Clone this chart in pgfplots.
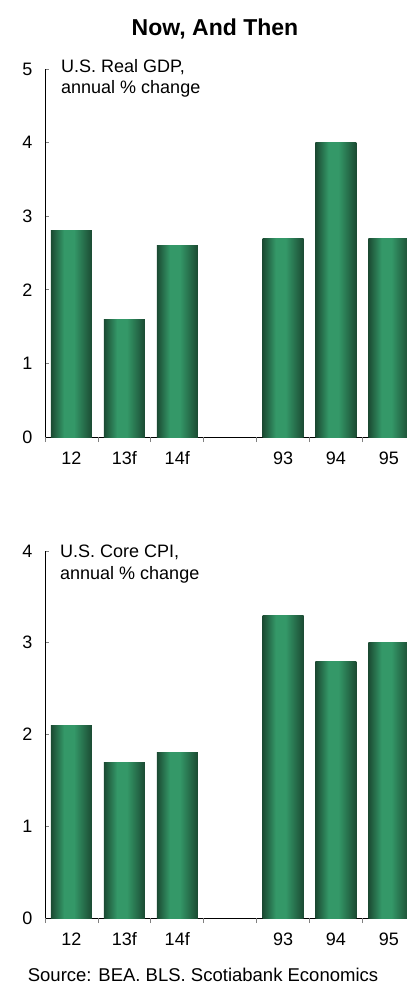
\documentclass[border=0pt]{standalone}
\usepackage{fontspec}
\setmainfont{Liberation Sans}
\usepackage{pgfplots}
\pgfplotsset{compat=1.18}

\definecolor{bardark}{HTML}{1B4A32}
\definecolor{barlight}{HTML}{349868}
\pgfdeclarehorizontalshading{barshade}{100bp}{color(0bp)=(bardark); color(25bp)=(bardark); color(41bp)=(barlight); color(53bp)=(barlight); color(75bp)=(bardark); color(100bp)=(bardark)}

\pgfplotsset{
  nowthen/.style={
    scale only axis, width=362pt,
    xmin=-0.5, xmax=6.343, ymin=0,
    axis x line*=bottom, axis y line*=left,
    axis line style={black, line width=0.9pt},
    ytick distance=1,
    y tick style={gray, line width=0.8pt},
    ytick align=inside, major tick length=4pt,
    yticklabel style={xshift=-9pt},
    xtick={0,1,2,4,5,6}, xticklabels={12,13f,14f,93,94,95},
    major x tick style={draw=none},
    extra x ticks={-0.5,0.5,1.5,2.5,3.5,4.5,5.5},
    extra x tick labels={},
    extra x tick style={major x tick style={draw=gray, line width=0.8pt}, xtick align=outside, major tick length=5pt},
    xticklabel style={yshift=-7pt},
    tick label style={font=\fontsize{18}{20}\selectfont},
    /pgf/number format/assume math mode=true,
    ybar, bar width=41pt, bar shift=0pt,
  },
  greenbar/.style={draw=none, shading=barshade},
}
\tikzset{note/.style={font=\fontsize{18}{20}\selectfont, anchor=base west, inner sep=0pt}}
% one \addplot per bar so each bar gets its own shading
\newcommand{\gbar}[2]{\addplot[greenbar] coordinates {(#1,#2)};}

\begin{document}
\begin{tikzpicture}[x=1pt, y=1pt]
\useasboundingbox (0,0) rectangle (407,-983);

\node[font=\fontsize{23}{26}\selectfont\bfseries, anchor=base] at (215,-35) {Now, And Then};

% U.S. Real GDP
\begin{axis}[nowthen, height=368pt, ymax=5, at={(45pt,-437pt)}, anchor=south west]
\gbar{0}{2.8}
\gbar{1}{1.6}
\gbar{2}{2.6}
\gbar{4}{2.7}
\gbar{5}{4.0}
\gbar{6}{2.7}
\end{axis}
\node[note] at (61,-72) {U.S. Real GDP,};
\node[note] at (61,-93) {annual \% change};

% U.S. Core CPI
\begin{axis}[nowthen, height=367pt, ymax=4, at={(45pt,-918pt)}, anchor=south west]
\gbar{0}{2.1}
\gbar{1}{1.7}
\gbar{2}{1.8}
\gbar{4}{3.3}
\gbar{5}{2.8}
\gbar{6}{3.0}
\end{axis}
\node[note] at (60,-557) {U.S. Core CPI,};
\node[note] at (60,-579) {annual \% change};

\node[font=\fontsize{18.5}{20}\selectfont, anchor=base, inner sep=0pt] at (203,-981) {Source: BEA. BLS. Scotiabank Economics};
\end{tikzpicture}
\end{document}
